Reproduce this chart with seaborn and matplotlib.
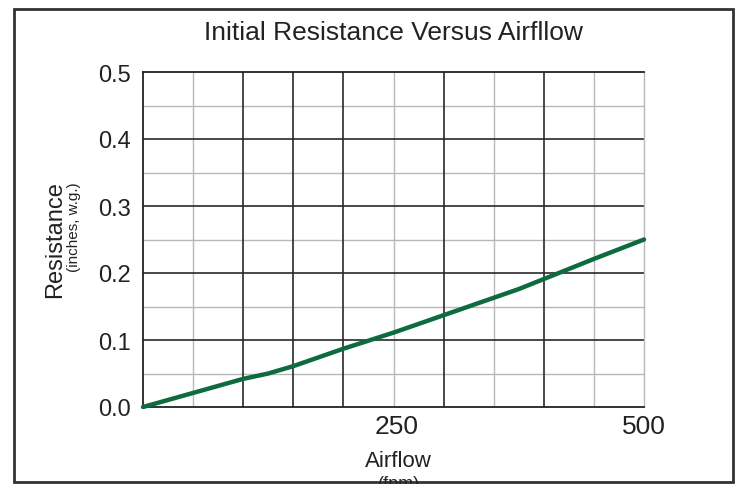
import matplotlib
matplotlib.use("Agg")
import matplotlib.pyplot as plt
import matplotlib.transforms as mtransforms
import seaborn as sns
import pandas as pd
from matplotlib.patches import Rectangle

# curve
airflow = [0, 50, 100, 125, 150, 200, 250, 300, 350, 375, 400, 450, 500]
resistance = [0.0, 0.021, 0.042, 0.050, 0.061, 0.087, 0.111, 0.137, 0.163, 0.176, 0.191, 0.221, 0.250]

x_ticks = [250, 500]
y_ticks = [0.0, 0.1, 0.2, 0.3, 0.4, 0.5]
x_dark = [100, 150, 200, 300, 400]
x_light = [50, 250, 350, 450]
y_dark = [0.1, 0.2, 0.3, 0.4]
y_light = [0.05, 0.15, 0.25, 0.35, 0.45]


def main():
    sns.set_style("white")
    plt.rcParams['font.family'] = ['Liberation Sans', 'DejaVu Sans']

    df = pd.DataFrame({"Airflow": airflow, "Resistance": resistance})

    fig = plt.figure(figsize=(7.41, 4.85), dpi=100)
    ax = fig.add_axes([143 / 741, 1 - 408 / 485, 501 / 741, 335 / 485])

    # grid: light then dark
    for v in x_light:
        ax.axvline(v, color="#b8b8b8", lw=1.0, zorder=1)
    for v in y_light:
        ax.axhline(v, color="#b8b8b8", lw=1.0, zorder=1)
    for v in x_dark:
        ax.axvline(v, color="#2a2a2a", lw=1.2, zorder=1)
    for v in y_dark:
        ax.axhline(v, color="#2a2a2a", lw=1.2, zorder=1)

    sns.lineplot(data=df, x="Airflow", y="Resistance", ax=ax, color="#0d6b3c",
                 lw=3.2, zorder=3, clip_on=False)

    ax.set_xlim(0, 500)
    ax.set_ylim(0, 0.5)
    ax.set_xticks(x_ticks)
    ax.set_xticklabels([str(t) for t in x_ticks])
    ax.set_yticks(y_ticks)
    ax.set_yticklabels([f"{t:.1f}" for t in y_ticks])
    ax.tick_params(length=0, colors="#222222")
    ax.tick_params(axis="y", labelsize=17, pad=9)
    ax.tick_params(axis="x", labelsize=19, pad=5)
    ax.set_xlabel("")
    ax.set_ylabel("")

    # the "250" label sits a little right of its grid line in the original
    lbl = ax.get_xticklabels()[0]
    lbl.set_transform(lbl.get_transform() +
                      mtransforms.ScaledTranslation(3 / 100, 0, fig.dpi_scale_trans))

    for s in ["left", "top", "bottom"]:
        ax.spines[s].set_color("#222222")
        ax.spines[s].set_linewidth(1.3)
    ax.spines["right"].set_color("#b8b8b8")
    ax.spines["right"].set_linewidth(1.0)

    fig.text(393 / 741, 1 - 33 / 485, "Initial Resistance Versus Airfllow",
             ha="center", va="center", fontsize=19, color="#222222")
    fig.text(55 / 741, 1 - 181 / 485, "Resistance", rotation=90,
             ha="center", va="top", fontsize=17, color="#222222")
    fig.text(74 / 741, 1 - 182 / 485, "(inches, w.g.)", rotation=90,
             ha="center", va="top", fontsize=11, color="#222222")
    fig.text(398 / 741, 1 - 462 / 485, "Airflow",
             ha="center", va="center", fontsize=16, color="#222222")
    fig.text(399 / 741, 1 - 476 / 485, "(fpm)",
             ha="center", va="top", fontsize=13, color="#222222")

    # outer frame
    fig.patches.append(Rectangle((14 / 741, 1 - 483 / 485), 719 / 741, 473 / 485,
                                 transform=fig.transFigure, fill=False,
                                 edgecolor="#333333", lw=2.0))

    fig.savefig("out.png", dpi=100)


if __name__ == "__main__":
    main()
